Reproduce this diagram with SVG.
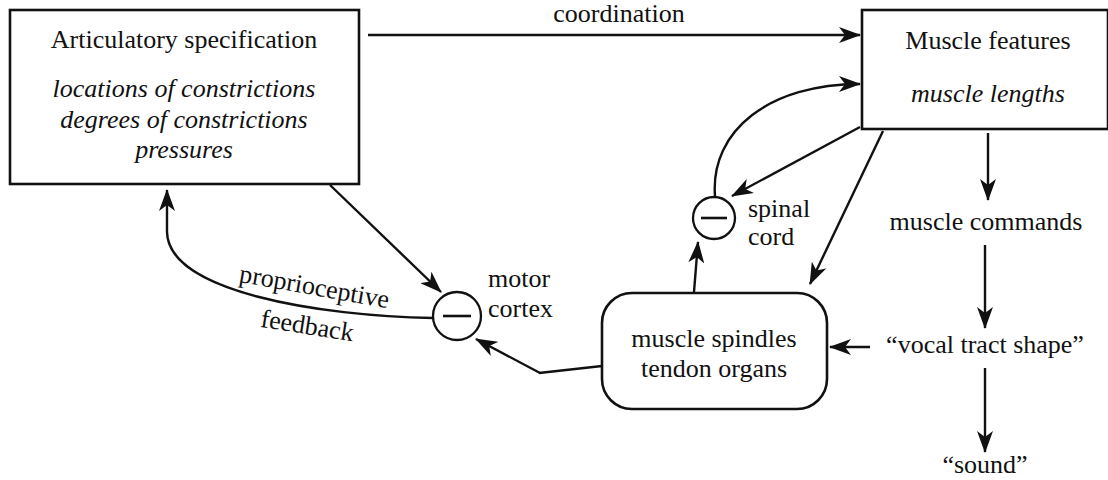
<svg xmlns="http://www.w3.org/2000/svg" width="1108" height="480" viewBox="0 0 1108 480">
<style>
svg text.t{font-family:'Liberation Serif',serif !important;fill:#111;font-size:26px}
svg text.it{font-style:italic}
.box{fill:#fff;stroke:#111;stroke-width:2.6}
.c{fill:#fff;stroke:#111;stroke-width:2.3}
.minus{stroke:#111;stroke-width:2.6}
.e{fill:none;stroke:#111;stroke-width:2.4;marker-end:url(#ah)}
.l{fill:none;stroke:#111;stroke-width:2.4}
</style>
<defs>
<marker id="ah" markerUnits="userSpaceOnUse" markerWidth="24" markerHeight="16" refX="21" refY="8" orient="auto">
<path d="M0,0 L22,8 L0,16 L6,8 z" fill="#111"/>
</marker>
</defs>
<rect width="1108" height="480" fill="#fff"/>
<g id="connectors">
<path class="e" d="M368,35 L860,35"/>
<path class="e" d="M715,196 C710,130 770,84 860,84"/>
<path class="e" d="M860,127 L732,196"/>
<path class="e" d="M883,131 L810,284"/>
<path class="e" d="M988,133 L988,200"/>
<path class="e" d="M985,245 L985,328"/>
<path class="e" d="M985,368 L985,452"/>
<path class="e" d="M870,347 L830,347"/>
<path class="e" d="M694,292 L698,242"/>
<path class="e" d="M330,185 L441,292"/>
<path class="l" d="M602,366 L539,373"/>
<path class="e" d="M540,373 L476,339"/>
<path class="e" d="M433,318 C320,316 168,292 167,232 L167,190"/>
</g>
<g id="articulatory">
<rect class="box" x="10" y="10" width="349" height="174"/>
<text class="t" font-family="Liberation Serif" style="font-family:'Liberation Serif',serif !important" x="184" y="48" text-anchor="middle">Articulatory specification</text>
<text class="t it" font-family="Liberation Serif" style="font-family:'Liberation Serif',serif !important" x="184" y="97" text-anchor="middle">locations of constrictions</text>
<text class="t it" font-family="Liberation Serif" style="font-family:'Liberation Serif',serif !important" x="184" y="128" text-anchor="middle">degrees of constrictions</text>
<text class="t it" font-family="Liberation Serif" style="font-family:'Liberation Serif',serif !important" x="184" y="158" text-anchor="middle">pressures</text>
</g>
<g id="coordination-label">
<text class="t" font-family="Liberation Serif" style="font-family:'Liberation Serif',serif !important" x="619" y="22" text-anchor="middle">coordination</text>
</g>
<g id="muscle-features">
<rect class="box" x="862" y="10" width="246" height="119"/>
<text class="t" font-family="Liberation Serif" style="font-family:'Liberation Serif',serif !important" x="988" y="49" text-anchor="middle">Muscle features</text>
<text class="t it" font-family="Liberation Serif" style="font-family:'Liberation Serif',serif !important" x="988" y="102" text-anchor="middle">muscle lengths</text>
</g>
<g id="spinal-cord">
<circle class="c" cx="714" cy="218" r="21"/>
<line class="minus" x1="701" y1="218" x2="727" y2="218"/>
<text class="t" font-family="Liberation Serif" style="font-family:'Liberation Serif',serif !important" x="748" y="217">spinal</text>
<text class="t" font-family="Liberation Serif" style="font-family:'Liberation Serif',serif !important" x="748" y="245">cord</text>
</g>
<g id="motor-cortex">
<circle class="c" cx="457" cy="316" r="24"/>
<line class="minus" x1="443" y1="316" x2="471" y2="316"/>
<text class="t" font-family="Liberation Serif" style="font-family:'Liberation Serif',serif !important" x="488" y="287">motor</text>
<text class="t" font-family="Liberation Serif" style="font-family:'Liberation Serif',serif !important" x="488" y="317">cortex</text>
</g>
<g id="proprioceptive-label">
<text class="t" font-family="Liberation Serif" style="font-family:'Liberation Serif',serif !important" x="313" y="295" text-anchor="middle" transform="rotate(10 313 295)">proprioceptive</text>
<text class="t" font-family="Liberation Serif" style="font-family:'Liberation Serif',serif !important" x="306" y="334" text-anchor="middle" transform="rotate(9 306 334)">feedback</text>
</g>
<g id="spindles">
<rect class="box" x="602" y="293" width="225" height="116" rx="30" ry="30"/>
<text class="t" font-family="Liberation Serif" style="font-family:'Liberation Serif',serif !important" x="714" y="347" text-anchor="middle">muscle spindles</text>
<text class="t" font-family="Liberation Serif" style="font-family:'Liberation Serif',serif !important" x="714" y="377" text-anchor="middle">tendon organs</text>
</g>
<g id="muscle-commands">
<text class="t" font-family="Liberation Serif" style="font-family:'Liberation Serif',serif !important" x="986" y="230" text-anchor="middle">muscle commands</text>
</g>
<g id="vocal-tract">
<text class="t" font-family="Liberation Serif" style="font-family:'Liberation Serif',serif !important" x="985" y="353" text-anchor="middle">&#8220;vocal tract shape&#8221;</text>
</g>
<g id="sound">
<text class="t" font-family="Liberation Serif" style="font-family:'Liberation Serif',serif !important" x="985" y="473" text-anchor="middle">&#8220;sound&#8221;</text>
</g>
</svg>
